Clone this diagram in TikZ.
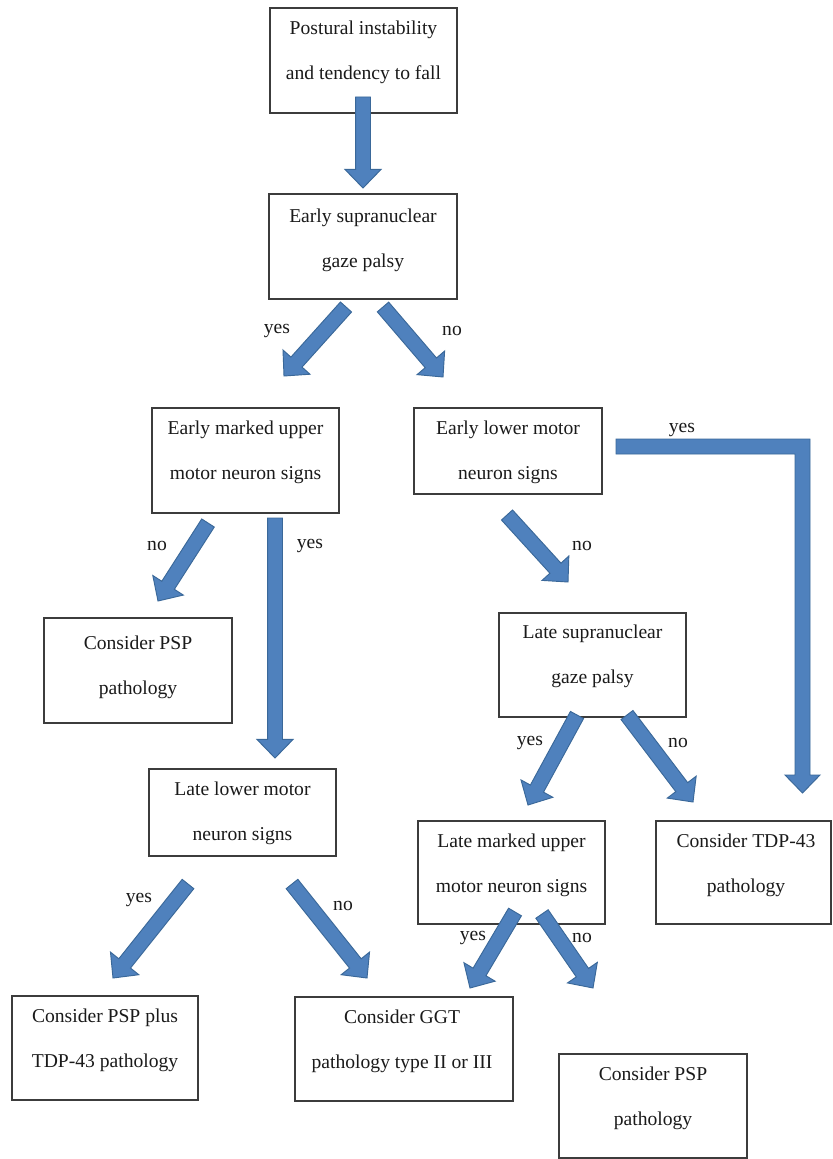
\documentclass[tikz,border=0pt]{standalone}
\usepackage{fontspec}
\setmainfont{Liberation Serif}
\usetikzlibrary{calc}
\definecolor{arrfill}{HTML}{4F81BD}
\definecolor{arrline}{HTML}{3A6899}
\definecolor{boxline}{HTML}{3C3C3C}
\definecolor{txtcol}{HTML}{1A1A1A}
\tikzset{
  bx/.style 2 args={draw=boxline, line width=0.9pt, inner sep=0pt, outer sep=0pt,
    minimum width=#1*0.75pt, minimum height=#2*0.75pt},
  tx/.style={align=center, inner sep=0pt, text=txtcol,
    font=\fontsize{14.7}{34}\selectfont},
  lbl/.style={inner sep=0pt, text=txtcol, font=\fontsize{14.7}{17}\selectfont},
  arr/.style={fill=arrfill, draw=arrline, line width=0.7pt, line join=miter}
}
\newcommand\blockarrow[2]{%
  \coordinate (ba-s) at (#1);
  \coordinate (ba-e) at (#2);
  \coordinate (ba-h) at ($(ba-e)!14pt!(ba-s)$);
  \filldraw[arr] ($(ba-s)!5.6pt!90:(ba-e)$) -- ($(ba-h)!5.6pt!-90:(ba-s)$)
    -- ($(ba-h)!13.6pt!-90:(ba-s)$) -- (ba-e) -- ($(ba-h)!13.6pt!90:(ba-s)$)
    -- ($(ba-h)!5.6pt!90:(ba-s)$) -- ($(ba-s)!5.6pt!-90:(ba-e)$) -- cycle;}
\begin{document}
\begin{tikzpicture}[x=0.75pt,y=-0.75pt]
\useasboundingbox[fill=white] (0,0) rectangle (832,1159);

% boxes
\node[bx={187}{105}] (b1) at (363.5,60.5) {};
\node[tx] (t1) at (363.5,52.5) {Postural instability\\and tendency to fall};
\node[bx={188}{105}] (b2) at (363,246.5) {};
\node[tx] (t2) at (363,240.5) {Early supranuclear\\gaze palsy};
\node[bx={187}{105}] (b3) at (245.5,460.5) {};
\node[tx] (t3) at (245.5,452) {Early marked upper\\motor neuron signs};
\node[bx={188}{86}] (b4) at (508,451) {};
\node[tx] (t4) at (508,452) {Early lower motor\\neuron signs};
\node[bx={188}{105}] (b5) at (138,670.5) {};
\node[tx] (t5) at (138,667) {Consider PSP\\pathology};
\node[bx={187}{104}] (b6) at (592.5,665) {};
\node[tx] (t6) at (592.5,656.5) {Late supranuclear\\gaze palsy};
\node[bx={187}{87}] (b7) at (242.5,812.5) {};
\node[tx] (t7) at (242.5,813) {Late lower motor\\neuron signs};
\node[bx={187}{103}] (b8) at (511.5,872.5) {};
\node[tx] (t8) at (511.5,865) {Late marked upper\\motor neuron signs};
\node[bx={175}{103}] (b9) at (743.5,872.5) {};
\node[tx] (t9) at (746,865) {Consider TDP-43\\pathology};
\node[bx={186}{104}] (b10) at (105,1048) {};
\node[tx] (t10) at (105,1040) {Consider PSP plus\\TDP-43 pathology};
\node[bx={218}{104}] (b11) at (404,1049) {};
\node[tx] (t11) at (402,1041) {Consider GGT\\pathology type II or III};
\node[bx={188}{104}] (b12) at (653,1106) {};
\node[tx] (t12) at (653,1098) {Consider PSP\\pathology};

% arrow end points
\coordinate (a1s) at (363,97);   \coordinate (a1e) at (363,188);
\coordinate (a2s) at (346,307);  \coordinate (a2e) at (284,376);
\coordinate (a3s) at (383,307);  \coordinate (a3e) at (443,377);
\coordinate (a4s) at (208,523);  \coordinate (a4e) at (158,601);
\coordinate (a5s) at (275,518);  \coordinate (a5e) at (275,758);
\coordinate (a6s) at (507,515);  \coordinate (a6e) at (568,582);
\coordinate (a7s) at (577,715);  \coordinate (a7e) at (528,805);
\coordinate (a8s) at (627,715);  \coordinate (a8e) at (693,802);
\coordinate (a9s) at (188,884);  \coordinate (a9e) at (113,978);
\coordinate (a10s) at (292,884); \coordinate (a10e) at (367,978);
\coordinate (a11s) at (515,912); \coordinate (a11e) at (470,988);
\coordinate (a12s) at (542,914); \coordinate (a12e) at (593,988);

\blockarrow{a1s}{a1e}
\blockarrow{a2s}{a2e}
\blockarrow{a3s}{a3e}
\blockarrow{a4s}{a4e}
\blockarrow{a5s}{a5e}
\blockarrow{a6s}{a6e}
\blockarrow{a7s}{a7e}
\blockarrow{a8s}{a8e}
\blockarrow{a9s}{a9e}
\blockarrow{a10s}{a10e}
\blockarrow{a11s}{a11e}
\blockarrow{a12s}{a12e}

% bent arrow from Early lower motor neuron signs to Consider TDP-43
\coordinate (yS) at (616,446.5);
\coordinate (yC) at (802.5,446.5);
\coordinate (yE) at (802.5,793);
\filldraw[arr] ($(yS)+(0,-7.5)$) -- ($(yC)+(7.5,-7.5)$) -- ($(yE)+(7.5,-18)$)
  -- ($(yE)+(17.5,-18)$) -- (yE) -- ($(yE)+(-17.5,-18)$) -- ($(yE)+(-7.5,-18)$)
  -- ($(yC)+(-7.5,7.5)$) -- ($(yS)+(0,7.5)$) -- cycle;

% labels
\node[lbl] (l1) at (277,331) {yes};
\node[lbl] (l2) at (452,331) {no};
\node[lbl] (l3) at (157,546) {no};
\node[lbl] (l4) at (310,546) {yes};
\node[lbl] (l5) at (682,430) {yes};
\node[lbl] (l6) at (582,546) {no};
\node[lbl] (l7) at (530,743) {yes};
\node[lbl] (l8) at (678,743) {no};
\node[lbl] (l9) at (139,900) {yes};
\node[lbl] (l10) at (343,906) {no};
\node[lbl] (l11) at (473,938) {yes};
\node[lbl] (l12) at (582,938) {no};
\end{tikzpicture}
\end{document}
